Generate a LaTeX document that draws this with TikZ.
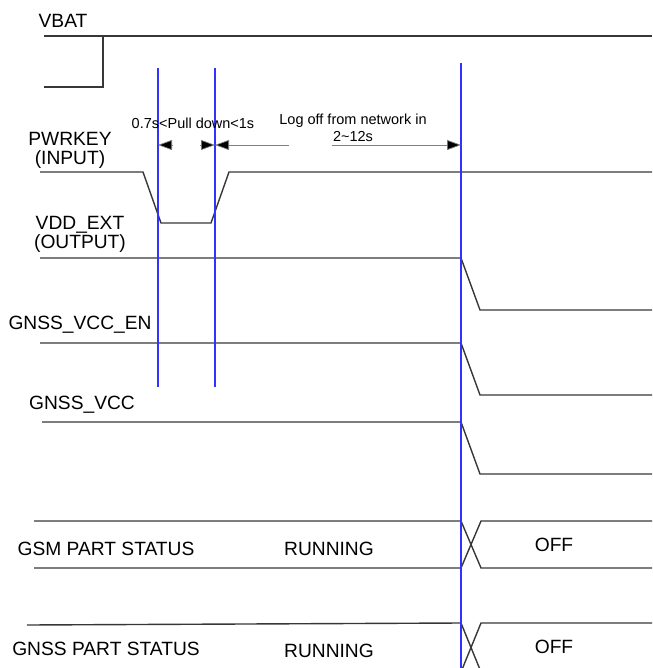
\documentclass[tikz,border=0pt]{standalone}
\usepackage{fontspec}
\setmainfont{Liberation Sans}
\usetikzlibrary{calc,arrows.meta}
\definecolor{myblue}{RGB}{50,50,250}
\definecolor{mygray}{RGB}{55,55,55}

\begin{document}
\begin{tikzpicture}[x=1pt, y=-1pt,
    wave/.style={draw=mygray, line width=1.4pt},
    marker/.style={draw=myblue, line width=1.4pt},
    siglabel/.style={anchor=center, align=center, font=\fontsize{19.2}{19}\selectfont},
    note/.style={anchor=center, align=center, font=\fontsize{14.5}{17}\selectfont},
    dimline/.style={draw=gray, line width=0.7pt, -{Triangle[length=14pt, width=10pt, fill=black]}}]
    \useasboundingbox (0, 0) rectangle (652, 668);
    \clip (0, 0) rectangle (652, 668);
    \begin{scope}
        % Signal names
        \node[siglabel] (vbat) at (63, 21) {VBAT};
        \node[siglabel] (pwrkey) at (70, 150) {PWRKEY\\(INPUT)};
        \node[siglabel] (vddext) at (80, 234) {VDD\_EXT\\(OUTPUT)};
        \node[siglabel] (gnssen) at (80, 325) {GNSS\_VCC\_EN};
        \node[siglabel] (gnssvcc) at (82, 405) {GNSS\_VCC};
        \node[siglabel] (gsmstat) at (106, 549) {GSM PART STATUS};
        \node[siglabel] (gnssstat) at (106, 649) {GNSS PART STATUS};
        \node[siglabel] (gsmrun) at (329, 549) {RUNNING};
        \node[siglabel] (gnssrun) at (329, 651) {RUNNING};
        \node[siglabel] (gsmoff) at (554, 545) {OFF};
        \node[siglabel] (gnssoff) at (554, 647) {OFF};
    \end{scope}
    \begin{scope}
        % Waveforms
        \draw[wave] (44, 36) -- (652, 36);
        \draw[wave] (44, 87) -- ++(59, 0) -- ++(0, -51);
        \draw[wave] (40, 172) -- ++(103, 0) -- ++(18, 51) -- ++(50, 0)
            -- ++(18, -51) -- (652, 172);
        \draw[wave] (40, 258) -- ++(421, 0) -- ++(19, 52) -- (652, 310);
        \draw[wave] (40, 343) -- ++(421, 0) -- ++(19, 52) -- (652, 395);
        \draw[wave] (42, 422) -- ++(419, 0) -- ++(19, 52) -- (652, 474);
        % Status buses
        \draw[wave] (34, 521) -- ++(427, 0) -- ++(20, 47) -- (652, 568);
        \draw[wave] (34, 568) -- ++(427, 0) -- ++(20, -47) -- (652, 521);
        \draw[wave] (27, 625) -- (461, 623) -- ++(20, 49) -- (652, 672);
        \draw[wave] (27, 672) -- ++(434, 0) -- ++(20, -49) -- (652, 623);
    \end{scope}
    \begin{scope}
        % Markers
        \coordinate (m1top) at (158, 68);
        \coordinate (m1bot) at (158, 387);
        \coordinate (m2top) at (215, 68);
        \coordinate (m2bot) at (215, 387);
        \coordinate (m3top) at (461, 63);
        \coordinate (m3bot) at (461, 668);
        \draw[marker] (m1top) -- (m1bot);
        \draw[marker] (m2top) -- (m2bot);
        \draw[marker] (m3top) -- (m3bot);
        % Timing notes
        \node[note] (pulldown) at (193, 123) {0.7s<Pull down<1s};
        \node[note] (logoff) at (353, 128) {Log off from network in\\2\textasciitilde12s};
        \coordinate (a1) at (173, 145);
        \coordinate (a2) at (200, 145);
        \coordinate (a3) at (289, 145);
        \coordinate (a4) at (332, 145);
        \draw[dimline] (a1) -- (m1top |- a1);
        \draw[dimline] (a2) -- (m2top |- a2);
        \draw[dimline] (a3) -- (m2top |- a3);
        \draw[dimline] (a4) -- (m3top |- a4);
    \end{scope}
\end{tikzpicture}
\end{document}
